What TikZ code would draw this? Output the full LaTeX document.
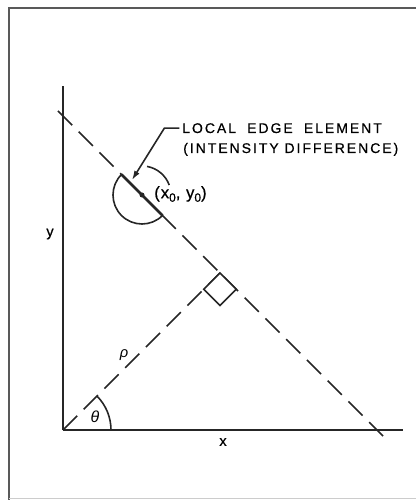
\documentclass[tikz,border=0pt]{standalone}
\usepackage{fontspec}
\setmainfont{Liberation Sans}
\usetikzlibrary{arrows.meta,calc}

\tikzset{
  axisline/.style={line width=1.4pt, black!85},
  dashline/.style={line width=1.3pt, black!85, dash pattern=on 15pt off 7pt},
  thinline/.style={line width=1.2pt, black!85},
  lbl/.style={font=\fontsize{11}{13}\selectfont\addfontfeatures{FakeBold=0.6}, inner sep=0pt},
  caps/.style={font=\fontsize{10.5}{12}\selectfont\addfontfeatures{LetterSpace=14,FakeBold=0.6}, inner sep=0pt, anchor=base west},
}

\begin{document}
\begin{tikzpicture}[x=0.75pt,y=0.75pt]
  \useasboundingbox (-63,-70) rectangle (353,430);
  % frame of the page
  \draw[line width=1.5pt, black!65] (-54,-70) -- (-54,422) -- (353,422);
  \draw[line width=0.6pt, black!20] (-54,-68) -- (353,-68);

  \coordinate (O) at (0,0);
  \coordinate (ytop) at (0,344);
  \coordinate (xend) at (340,0);
  \coordinate (A) at (-5,319);
  \coordinate (B) at (320,-6);
  \coordinate (F) at (157,157);
  \coordinate (P) at (79,235);
  \coordinate (T) at (69,250);

  % axes
  \draw[axisline] (O) -- (ytop);
  \draw[axisline] (O) -- (xend);

  % edge line and its normal
  \draw[dashline] (A) -- (B);
  \draw[dashline] (O) -- (F);
  \draw[thinline, fill=white] (F) -- ++(-45:23) -- ++(-135:23) -- ++(135:23) -- cycle;

  % local edge element
  \draw[thinline] ($(P)+(135:29)$) arc[start angle=135, end angle=315, radius=29];
  \draw[thinline] ($(P)+(80:29)$) arc[start angle=80, end angle=20, radius=29];
  \draw[line width=1.9pt, black!85] ($(P)+(135:29)$) -- ($(P)+(-45:29)$);
  \fill[black!85] (P) circle (2.5);
  \node[lbl, anchor=west, font=\fontsize{12.5}{14}\selectfont\addfontfeatures{LetterSpace=6,FakeBold=0.6}] (pt) at (91,236)
    {(x\raisebox{-.4ex}{\small 0}, y\raisebox{-.4ex}{\small 0})};

  % angle
  \draw[thinline] (48,0) arc[start angle=0, end angle=45, radius=48];
  \node[lbl, font=\fontsize{12}{14}\selectfont\itshape] (theta) at (32,13) {θ};
  \node[lbl, font=\fontsize{11}{13}\selectfont\itshape] (rho) at (61,75) {ρ};
  \node[lbl] (ylab) at (-13,196) {y};
  \node[lbl] (xlab) at (160,-12) {x};

  % callout
  \node[caps] (lab1) at (119,297) {LOCAL\hspace{4pt} EDGE\hspace{4pt} ELEMENT};
  \node[caps] (lab2) at (120,277) {(INTENSITY DIFFERENCE)};
  \draw[thinline, -{Latex[length=7pt,width=4.5pt]}]
    ([xshift=-2]lab1.west) -- ++(-15,0) -- (T);
\end{tikzpicture}
\end{document}
